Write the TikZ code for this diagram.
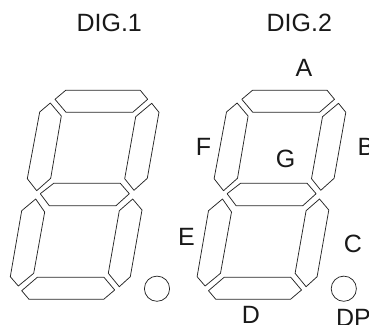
\documentclass[tikz,border=0pt]{standalone}
\usepackage{fontspec}
\setmainfont{Liberation Sans}
\tikzset{
  segment/.style={draw=black!85, line width=0.75pt, line join=round, fill=white},
  lbl/.style={inner sep=0pt, outer sep=0pt, anchor=base, text=black!90, font=\fontsize{25}{25}\selectfont},
  digit/.pic={
    \draw[segment] (55,99.3) -- (65.7,90.3) -- (140.3,90.3) -- (147.7,99.3) -- (132.7,112.3) -- (66,112.3) -- cycle;
    \draw[segment] (50.3,103) -- (61.3,116) -- (50.7,178.3) -- (36.7,190.7) -- (27.3,178.7) -- (39.7,112) -- cycle;
    \draw[segment] (151.7,103.3) -- (159,112.3) -- (147.3,178.3) -- (134,190.3) -- (124.7,178.7) -- (135.7,116.7) -- cycle;
    \draw[segment] (40.3,193.7) -- (53.7,183.3) -- (120.3,183.3) -- (129.3,193.7) -- (116,205.7) -- (49.3,205.7) -- cycle;
    \draw[segment] (35.7,199) -- (44.7,212) -- (33.7,273.3) -- (18.3,286) -- (10.3,276.7) -- (21.7,210.7) -- cycle;
    \draw[segment] (132.7,199) -- (142,210) -- (130.3,276.7) -- (119.3,286.7) -- (108.3,273.3) -- (119.3,210.7) -- cycle;
    \draw[segment] (21.7,290.7) -- (37.3,277.3) -- (104,277.3) -- (114.7,290) -- (103.7,299.3) -- (29,299.3) -- cycle;
    \draw[segment] (157,288.7) circle (12.6);
  }
}
\begin{document}
\begin{tikzpicture}[x=1pt,y=-1pt]
  \useasboundingbox (0,0) rectangle (369,324);
  \clip (0,0) rectangle (369,324);
  \pic at (0,0) {digit};
  \pic at (186.8,0) {digit};
  \node[lbl] (dig1) at (109.2,31.7) {DIG.1};
  \node[lbl] (dig2) at (299.3,31.7) {DIG.2};
  \node[lbl] (a) at (304,76) {A};
  \node[lbl] (f) at (203.5,155) {F};
  \node[lbl] (g) at (285.7,167.3) {G};
  \node[lbl,anchor=base west] (b) at (357.5,155) {B};
  \node[lbl] (e) at (186.5,245.7) {E};
  \node[lbl] (c) at (353,252.3) {C};
  \node[lbl] (d) at (251,323.5) {D};
  \node[lbl,anchor=base west] (dp) at (336,326) {DP};
\end{tikzpicture}
\end{document}
